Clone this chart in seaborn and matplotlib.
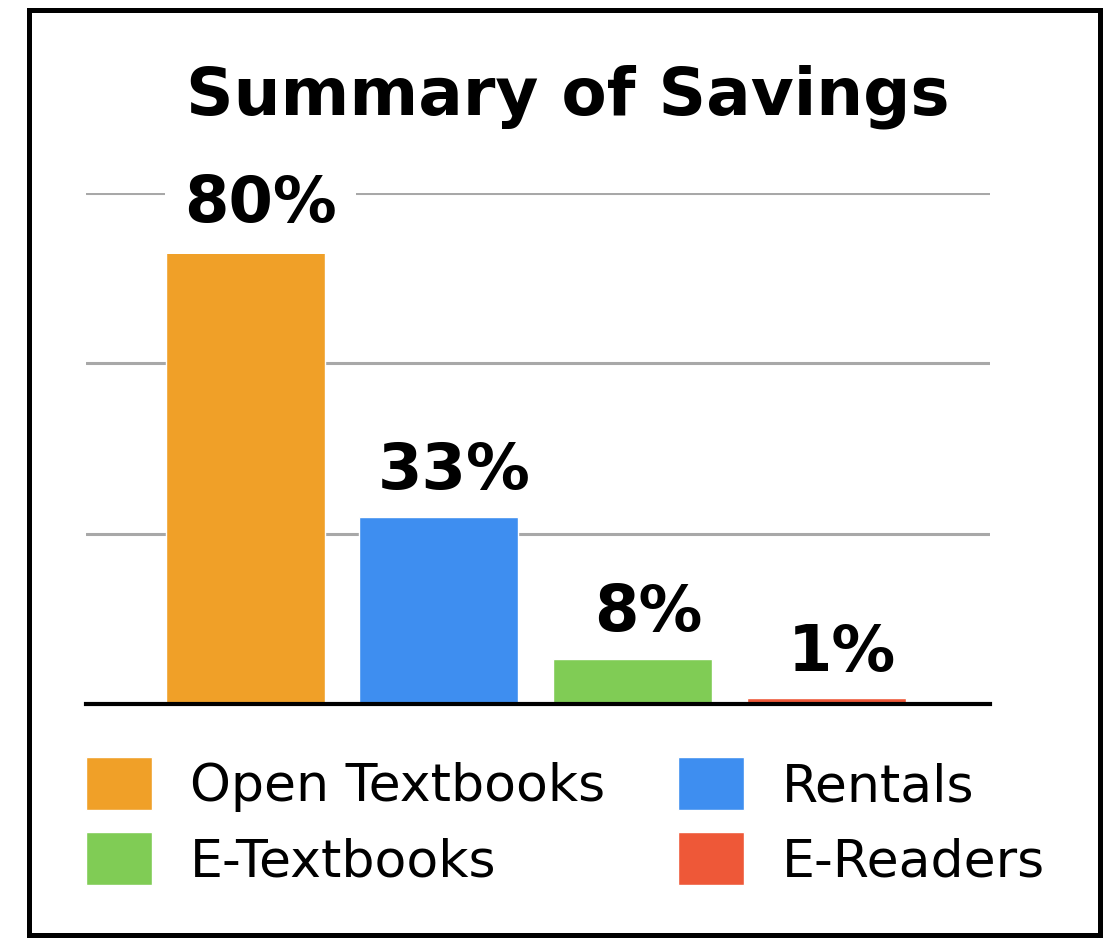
import matplotlib
matplotlib.use("Agg")
import matplotlib.pyplot as plt
import seaborn as sns
import pandas as pd
from matplotlib.patches import Rectangle

# chart data
categories = ["Open Textbooks", "Rentals", "E-Textbooks", "E-Readers"]
savings = [80, 33, 8, 1]
labels = ["80%", "33%", "8%", "1%"]
colors = ["#F0A028", "#3E8EF0", "#80CC55", "#EE5838"]
grid_ticks = [30, 60, 90]

df = pd.DataFrame({"category": categories, "saving": savings})

sns.set_style("white")
plt.rcParams["font.family"] = ["DejaVu Sans"]

fig = plt.figure(figsize=(11.17, 9.38), dpi=100)
ax = fig.add_axes([0.077, 0.2495, 0.809, 0.545])

sns.barplot(data=df, x="category", y="saving", hue="category", palette=colors,
            saturation=1, width=0.82, legend=False, ax=ax, zorder=3)

ax.set_ylim(0, 90)
ax.set_xlim(-0.82, 3.84)
ax.set_yticks(grid_ticks)
ax.yaxis.grid(True, color="#A8A8A8", linewidth=2.2)
ax.set_axisbelow(True)
ax.set_xticks([])
ax.set_yticklabels([])
ax.tick_params(left=False, bottom=False)
ax.set_xlabel("")
ax.set_ylabel("")
for s in ["top", "left", "right"]:
    ax.spines[s].set_visible(False)
ax.spines["bottom"].set_color("black")
ax.spines["bottom"].set_linewidth(3)
ax.spines["bottom"].set_zorder(4)

# value labels above bars
for i, (v, lab) in enumerate(zip(savings, labels)):
    ax.annotate(lab, xy=(i, v), xytext=(11, 20), textcoords="offset points",
                ha="center", va="baseline", fontsize=46, fontweight="bold",
                color="black", zorder=5,
                bbox=dict(facecolor="white", edgecolor="none", pad=14) if i == 0 else None)

# title
fig.text(0.508, 0.897, "Summary of Savings", ha="center", va="center",
         fontsize=47.5, fontweight="bold", color="black")

# legend, filled row by row
patches = list(ax.patches)[:len(categories)]
order = [0, 2, 1, 3]
leg = fig.legend([patches[k] for k in order], [categories[k] for k in order],
                 loc="upper left", bbox_to_anchor=(86 / 1117, 1 - 757 / 938),
                 ncol=2, frameon=False, fontsize=37.5, labelcolor="black",
                 handlelength=1.27, handleheight=1.2,
                 handletextpad=0.73, columnspacing=1.4, labelspacing=0.38,
                 borderpad=0, borderaxespad=0)

# outer frame
fig.patches.append(Rectangle((29 / 1117, 3 / 938), 1071 / 1117, 925 / 938,
                             transform=fig.transFigure, fill=False,
                             edgecolor="black", linewidth=3.6))

fig.savefig("out.png", dpi=100, facecolor="white")
